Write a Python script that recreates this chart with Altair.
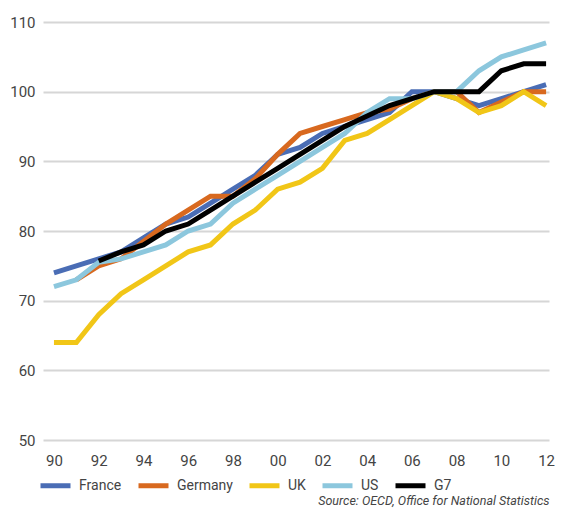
import altair as alt
import pandas as pd

years = list(range(1990, 2013))

france = [74, 75, 76, 77, 79, 81, 82, 84, 86, 88, 91, 92, 94, 95, 96, 97, 100, 100, 99, 98, 99, 100, 101]
germany_years = list(range(1991, 2013))
germany = [73, 75, 76, 78.5, 81, 83, 85, 85, 87.5, 91, 94, 95, 96, 97, 97.5, 99, 100, 100, 97, 98.5, 100, 100]
uk = [64, 64, 68, 71, 73, 75, 77, 78, 81, 83, 86, 87, 89, 93, 94, 96, 98, 100, 99, 97, 98, 100, 98]
us = [72, 73, 75.5, 76, 77, 78, 80, 81, 84, 86, 88, 90, 92, 94, 97, 99, 99, 100, 100, 103, 105, 106, 107]
g7_years = list(range(1992, 2013))
g7 = [75.7, 77, 78, 80, 81, 83, 85, 87, 89, 91, 93, 95, 96.5, 98, 99, 100, 100, 100, 103, 104, 104]

series_names = ["France", "Germany", "UK", "US", "G7"]
series_colors = ["#4a6db5", "#d8691f", "#f1c617", "#8cc7dd", "#000000"]
draw_order = {"UK": 0, "US": 1, "G7": 2, "Germany": 3, "France": 4}
y_ticks = [50, 60, 70, 80, 90, 100, 110]
x_ticks = list(range(1990, 2013, 2))
source = "Source: OECD, Office for National Statistics"

rows = []
for name, ys, vs in [("France", years, france), ("Germany", germany_years, germany),
                     ("UK", years, uk), ("US", years, us), ("G7", g7_years, g7)]:
    for y, v in zip(ys, vs):
        rows.append({"year": y, "value": v, "series": name, "order": draw_order[name]})
df = pd.DataFrame(rows)

FONT = "Roboto"

chart = alt.Chart(df).mark_line(strokeWidth=5, strokeJoin="miter", strokeCap="butt").encode(
    x=alt.X("year:Q", scale=alt.Scale(domain=[1989.51, 2012.13], nice=False, zero=False),
            axis=alt.Axis(values=x_ticks, format="d", labelExpr="slice(datum.label, 2)",
                          grid=False, domain=False, ticks=False, labelPadding=13,
                          labelFontSize=15, labelColor="#444444", labelFont=FONT,
                          title=source, titleAnchor="end", titleAlign="right",
                          titleFontStyle="italic", titleFontWeight="normal", titleFontSize=12.5,
                          titleFont=FONT, titleColor="#444444", titlePadding=26)),
    y=alt.Y("value:Q", scale=alt.Scale(domain=[50, 110], nice=False, zero=False),
            axis=alt.Axis(values=y_ticks, grid=True, gridColor="#d6d6d6", gridWidth=2,
                          domain=False, ticks=False, labelPadding=8,
                          labelFontSize=15, labelColor="#444444", labelFont=FONT, title=None)),
    color=alt.Color("series:N", sort=series_names,
                    scale=alt.Scale(domain=series_names, range=series_colors),
                    legend=alt.Legend(orient="none", legendX=-5, legendY=446, direction="horizontal",
                                      columns=5, title=None, symbolType="stroke", symbolSize=900,
                                      symbolStrokeWidth=5, labelFontSize=14, labelFont=FONT,
                                      labelColor="#444444", labelOffset=6, columnPadding=6)),
    detail="series:N",
    order=alt.Order("order:Q"),
).properties(
    width=506, height=418,
    padding={"left": 35, "top": 14, "right": 6, "bottom": 70},
    autosize=alt.AutoSizeParams(type="none"),
).configure_view(stroke=None)

chart.save("out.html", embed_options={"renderer": "svg", "actions": False})
